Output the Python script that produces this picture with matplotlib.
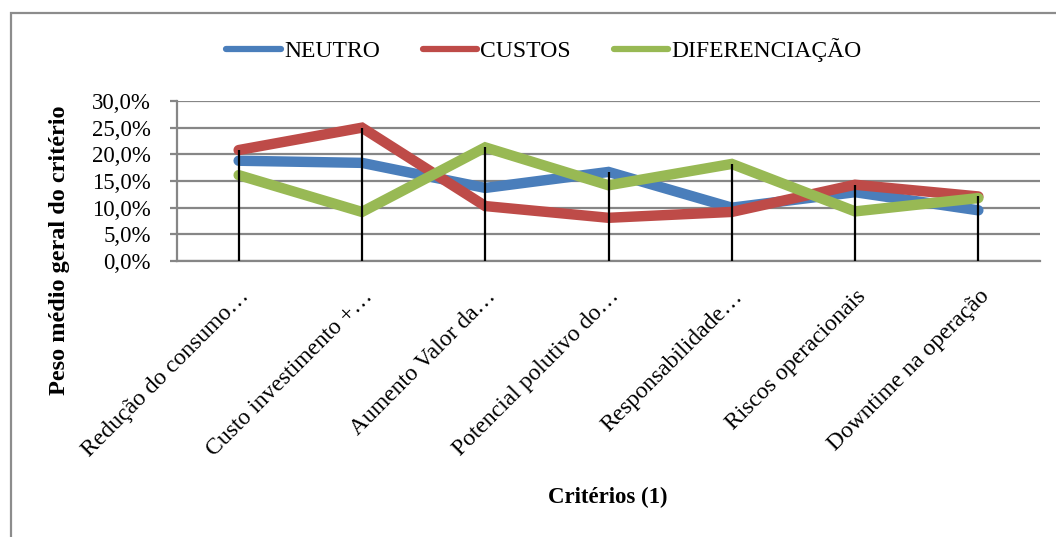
import numpy as np
import matplotlib
matplotlib.use("Agg")
import matplotlib.pyplot as plt
from matplotlib.patches import Rectangle

plt.rcParams['font.family'] = ['Liberation Serif', 'DejaVu Serif']

categorias = ['Redução do consumo…', 'Custo investimento +…', 'Aumento Valor da…',
              'Potencial polutivo do…', 'Responsabilidade…', 'Riscos operacionais',
              'Downtime na operação']
neutro = [18.8, 18.4, 13.7, 16.7, 10.0, 12.9, 9.5]
custos = [20.8, 25.0, 10.3, 8.1, 9.2, 14.3, 12.1]
diferenciacao = [16.1, 9.2, 21.3, 14.2, 18.2, 9.3, 11.8]
yticks = [0, 5, 10, 15, 20, 25, 30]

W, H = 1056, 537
fig = plt.figure(figsize=(W / 100, H / 100), dpi=100)
ax = fig.add_axes([177 / W, 1 - 261 / H, (1040 - 177) / W, 160 / H])

x = np.arange(len(categorias))
series = [('NEUTRO', neutro, '#4A7EBB'),
          ('CUSTOS', custos, '#BE4B48'),
          ('DIFERENCIAÇÃO', diferenciacao, '#98B954')]
for nome, vals, cor in series:
    ax.plot(x, vals, color=cor, lw=7.5, solid_capstyle='round',
            solid_joinstyle='miter', label=nome, zorder=3)

# drop lines, from the highest point of each category down to the axis
topo = np.max([neutro, custos, diferenciacao], axis=0)
ax.vlines(x, 0, topo, color='black', lw=1.6, zorder=4)

ax.set_xlim(-0.5, len(categorias) - 0.5)
ax.set_ylim(0, 30)
ax.set_yticks(yticks)
ax.set_yticklabels([f'{v:.1f}%'.replace('.', ',') for v in yticks], fontsize=16.5)
ax.yaxis.grid(True, color='#868686', lw=1.6)
ax.set_axisbelow(True)
for s in ['top', 'right']:
    ax.spines[s].set_visible(False)
for s in ['left', 'bottom']:
    ax.spines[s].set_color('#868686')
    ax.spines[s].set_linewidth(1.6)
ax.tick_params(axis='y', length=5, width=1.6, color='#868686', pad=14)
ax.tick_params(axis='x', length=0, pad=18)
ax.set_xticks(x)
ax.set_xticklabels(categorias, rotation=45, ha='right', va='top',
                   rotation_mode='anchor', fontsize=17)

fig.text(60 / W, 1 - 250 / H, 'Peso médio geral do critério', rotation=90,
         ha='center', va='center', fontsize=17.5, fontweight='bold')
fig.text(608 / W, 1 - 497 / H, 'Critérios (1)', ha='center', va='center',
         fontsize=16.5, fontweight='bold')

leg = fig.legend(loc='center', bbox_to_anchor=(544 / W, 1 - 50 / H), ncol=3,
                 frameon=False, fontsize=17, handlelength=2.3, handletextpad=0.15,
                 columnspacing=1.8)
for ln in leg.get_lines():
    ln.set_linewidth(4.5)

fig.patches.append(Rectangle((10.5 / W, -0.1), 1.2, 1 - 12.5 / H + 0.1,
                             transform=fig.transFigure, fill=False,
                             edgecolor='#8C8C8C', lw=1.6))

fig.savefig('out.png', dpi=100)
